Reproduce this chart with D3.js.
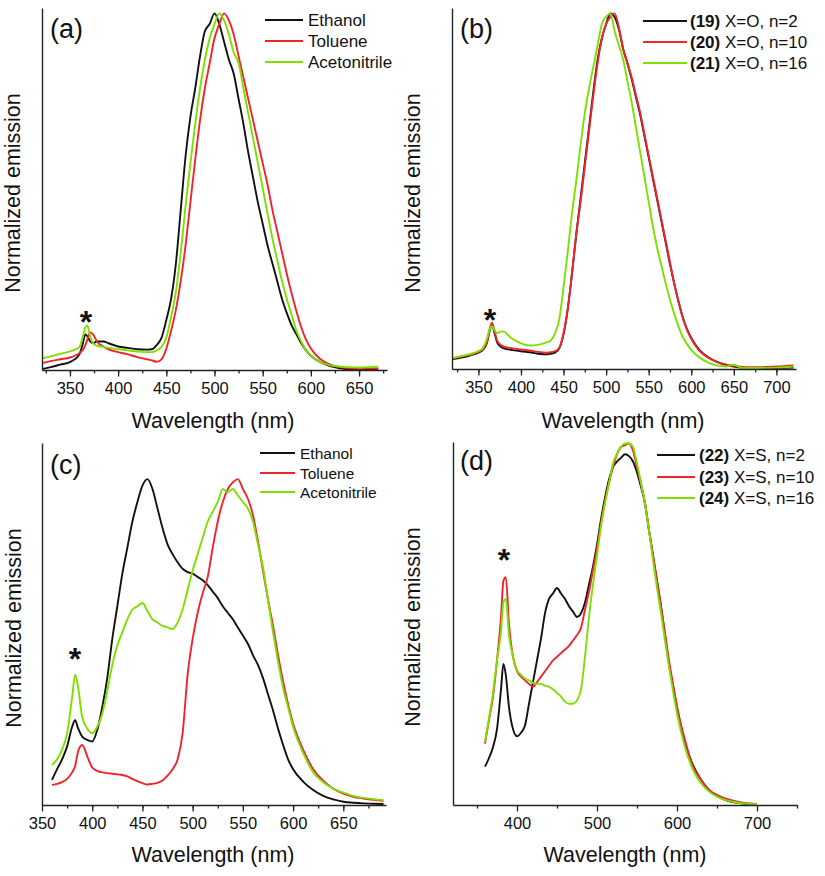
<!DOCTYPE html>
<html><head><meta charset="utf-8">
<script src="https://cdn.jsdelivr.net/npm/d3@7"></script>
<style>
html,body{margin:0;padding:0;background:#fff;}
svg text{font-family:"Liberation Sans",Arial,Helvetica,sans-serif;fill:#111;}
</style></head>
<body><svg id="chart" width="825" height="876"></svg>
<script>
// ---------- DATA ----------
// Panel (a)
const wlA = [322,330,340,350,355,360,363,366,368,371,374,378,385,390,400,410,420,430,435,440,445,450,455,460,465,470,475,480,485,490,495,500,505,510,515,520,525,530,535,540,545,550,555,560,565,570,575,580,585,590,595,600,610,620,630,640,650,660,670];
const aEthanol = [0.003,0.008,0.015,0.022,0.03,0.045,0.07,0.10,0.095,0.08,0.075,0.08,0.08,0.075,0.066,0.062,0.058,0.057,0.058,0.07,0.09,0.14,0.20,0.30,0.45,0.60,0.71,0.79,0.88,0.95,0.97,1.0,0.97,0.92,0.87,0.83,0.76,0.69,0.61,0.54,0.47,0.41,0.35,0.30,0.25,0.20,0.16,0.125,0.10,0.075,0.055,0.04,0.022,0.011,0.005,0.002,0.001,0.001,0.001];
const aToluene = [0.02,0.025,0.03,0.035,0.04,0.048,0.055,0.07,0.085,0.105,0.10,0.08,0.065,0.058,0.05,0.044,0.036,0.03,0.027,0.023,0.03,0.06,0.11,0.17,0.25,0.35,0.47,0.59,0.70,0.79,0.86,0.93,0.97,1.0,0.98,0.94,0.88,0.82,0.76,0.70,0.64,0.58,0.52,0.45,0.39,0.33,0.27,0.215,0.165,0.12,0.085,0.06,0.03,0.015,0.008,0.005,0.004,0.004,0.004];
const aAcetonitrile = [0.033,0.038,0.045,0.052,0.057,0.065,0.09,0.12,0.125,0.095,0.075,0.068,0.065,0.062,0.058,0.055,0.052,0.05,0.05,0.055,0.065,0.09,0.15,0.22,0.33,0.46,0.58,0.69,0.79,0.87,0.93,0.97,1.0,0.98,0.94,0.89,0.86,0.79,0.72,0.65,0.58,0.51,0.44,0.37,0.31,0.25,0.20,0.155,0.11,0.08,0.055,0.04,0.022,0.013,0.01,0.008,0.007,0.008,0.009];
// Panel (b)
const wlB = [320,330,340,350,355,360,363,366,369,372,376,380,385,390,400,410,420,430,435,440,445,450,455,460,465,470,475,480,485,490,495,500,505,510,515,520,525,530,535,540,545,550,555,560,565,570,575,580,585,590,595,600,610,620,630,640,650,660,670,680,700,720];
const b19 = [0.028,0.032,0.038,0.046,0.053,0.073,0.105,0.125,0.10,0.075,0.063,0.058,0.055,0.053,0.05,0.047,0.043,0.041,0.043,0.046,0.058,0.098,0.17,0.27,0.38,0.48,0.58,0.68,0.78,0.87,0.93,0.97,1.0,0.99,0.955,0.90,0.86,0.815,0.765,0.715,0.655,0.595,0.535,0.475,0.415,0.355,0.295,0.24,0.19,0.145,0.112,0.087,0.052,0.033,0.02,0.012,0.007,0.004,0.003,0.003,0.003,0.004];
const b20 = [0.03,0.035,0.04,0.048,0.055,0.075,0.11,0.13,0.105,0.08,0.068,0.063,0.06,0.058,0.055,0.052,0.048,0.046,0.047,0.05,0.06,0.10,0.17,0.27,0.38,0.47,0.57,0.67,0.77,0.86,0.93,0.97,0.99,1.0,0.96,0.90,0.86,0.82,0.77,0.72,0.66,0.60,0.54,0.48,0.42,0.36,0.30,0.24,0.19,0.145,0.11,0.085,0.05,0.032,0.02,0.013,0.009,0.006,0.005,0.005,0.007,0.01];
const b21 = [0.031,0.036,0.042,0.05,0.058,0.085,0.11,0.12,0.11,0.10,0.105,0.105,0.095,0.085,0.072,0.066,0.068,0.075,0.08,0.10,0.14,0.23,0.33,0.44,0.53,0.63,0.72,0.79,0.85,0.91,0.97,0.99,1.0,0.95,0.91,0.87,0.81,0.75,0.68,0.61,0.54,0.47,0.40,0.34,0.29,0.24,0.195,0.155,0.12,0.09,0.07,0.054,0.032,0.018,0.01,0.007,0.012,0.003,0.003,0.003,0.004,0.007];
// Panel (c)
const wlC = [360,365,370,375,380,383,386,390,395,400,405,410,415,420,425,430,435,440,445,450,455,460,465,470,475,480,485,490,495,500,505,510,515,520,525,530,535,540,545,550,555,560,565,570,575,580,585,590,595,600,610,620,630,640,650,660,670,680,690];
const cEthanol = [0.077,0.11,0.14,0.18,0.24,0.26,0.235,0.21,0.20,0.195,0.23,0.30,0.39,0.51,0.61,0.71,0.79,0.87,0.93,0.98,1.0,0.97,0.91,0.85,0.80,0.77,0.745,0.725,0.715,0.71,0.70,0.69,0.675,0.655,0.635,0.61,0.59,0.57,0.545,0.52,0.495,0.46,0.43,0.39,0.34,0.29,0.235,0.185,0.14,0.11,0.072,0.046,0.028,0.017,0.01,0.007,0.005,0.004,0.003];
const cToluene = [0.061,0.065,0.07,0.08,0.10,0.12,0.165,0.184,0.15,0.115,0.105,0.10,0.098,0.096,0.094,0.092,0.088,0.08,0.073,0.067,0.063,0.065,0.068,0.075,0.09,0.11,0.14,0.22,0.40,0.51,0.59,0.65,0.70,0.79,0.87,0.93,0.97,0.99,1.0,0.97,0.94,0.89,0.81,0.72,0.63,0.55,0.46,0.38,0.31,0.25,0.17,0.11,0.075,0.05,0.035,0.025,0.02,0.016,0.013];
const cAcetonitrile = [0.123,0.14,0.17,0.22,0.33,0.40,0.36,0.27,0.235,0.22,0.24,0.28,0.35,0.43,0.49,0.53,0.57,0.60,0.61,0.62,0.595,0.57,0.56,0.55,0.545,0.54,0.56,0.60,0.66,0.72,0.77,0.82,0.87,0.90,0.93,0.97,0.96,0.97,0.95,0.93,0.91,0.87,0.80,0.73,0.63,0.53,0.44,0.36,0.30,0.24,0.16,0.10,0.07,0.05,0.038,0.028,0.022,0.018,0.015];
// Panel (d)
const wlD = [360,365,370,375,380,383,386,390,395,400,405,410,415,420,425,430,435,440,445,450,455,460,465,470,475,480,485,490,495,500,505,510,515,520,525,530,535,540,545,550,555,560,565,570,575,580,585,590,595,600,610,620,630,640,650,660,670,680,690,700];
const d22 = [0.106,0.13,0.16,0.21,0.32,0.39,0.36,0.27,0.21,0.19,0.20,0.22,0.28,0.34,0.40,0.46,0.53,0.57,0.585,0.60,0.585,0.57,0.55,0.535,0.52,0.53,0.56,0.61,0.66,0.72,0.79,0.85,0.90,0.935,0.95,0.96,0.97,0.965,0.95,0.92,0.88,0.834,0.76,0.69,0.62,0.55,0.47,0.39,0.33,0.27,0.17,0.11,0.07,0.042,0.025,0.014,0.008,0.005,0.003,0.002];
const d23 = [0.17,0.235,0.30,0.40,0.52,0.62,0.63,0.50,0.41,0.37,0.355,0.345,0.335,0.327,0.34,0.355,0.37,0.385,0.40,0.41,0.42,0.43,0.44,0.455,0.47,0.49,0.54,0.59,0.65,0.71,0.78,0.84,0.89,0.935,0.97,0.99,0.995,1.0,0.98,0.935,0.89,0.834,0.76,0.69,0.62,0.548,0.475,0.40,0.335,0.272,0.18,0.106,0.07,0.041,0.028,0.018,0.012,0.007,0.004,0.002];
const d24 = [0.175,0.24,0.31,0.40,0.48,0.56,0.57,0.47,0.41,0.373,0.36,0.35,0.345,0.338,0.335,0.335,0.33,0.327,0.32,0.31,0.30,0.286,0.28,0.28,0.29,0.32,0.41,0.52,0.61,0.69,0.77,0.834,0.89,0.945,0.97,0.99,1.0,1.0,0.99,0.945,0.89,0.834,0.76,0.677,0.60,0.53,0.455,0.382,0.315,0.253,0.16,0.097,0.06,0.037,0.023,0.014,0.009,0.005,0.003,0.002];

const solventNames = ["Ethanol","Toluene","Acetonitrile"];
const legendB = [["(19)"," X=O, n=2"],["(20)"," X=O, n=10"],["(21)"," X=O, n=16"]];
const legendD = [["(22)"," X=S, n=2"],["(23)"," X=S, n=10"],["(24)"," X=S, n=16"]];
const panelLabels = ["(a)","(b)","(c)","(d)"];
const ticksA = [350,400,450,500,550,600,650];
const ticksB = [350,400,450,500,550,600,650,700];
const ticksC = [350,400,450,500,550,600,650];
const ticksD = [400,500,600,700];
const minorA = d3.range(325,680,25);
const minorB = d3.range(325,723,25);
const minorC = d3.range(375,692,25);
const minorD = [350,450,550,650,750];

const colors = ["#111111","#f0242c","#7de000"];

// ---------- LAYOUT ----------
const svg = d3.select("#chart");
const panels = [
  {wl:wlA, ys:[aEthanol,aToluene,aAcetonitrile], xd:[321,679], xr:[42,387], yd:[0,1.015], yr:[370,8],
   major:ticksA, minor:minorA, label:panelLabels[0], lab:[50,38], star:[86,315],
   leg:{x1:265,x2:303,tx:308,ys:[20,41,62],fs:17,items:solventNames.map(n=>["",n])},
   xt:[213,428], yt:[20,193]},
  {wl:wlB, ys:[b19,b20,b21], xd:[319,723], xr:[452,796], yd:[0,1.015], yr:[369,8],
   major:ticksB, minor:minorB, label:panelLabels[1], lab:[460,38], star:[490,313],
   leg:{x1:643,x2:687,tx:690,ys:[21,42,63],fs:17,items:legendB},
   xt:[623,428], yt:[420,193]},
  {wl:wlC, ys:[cEthanol,cToluene,cAcetonitrile], xd:[350,692.5], xr:[42,386], yd:[0,1.111], yr:[805,443],
   major:ticksC, minor:minorC, label:panelLabels[2], lab:[50,474], star:[75,652],
   leg:{x1:260,x2:295,tx:300,ys:[453,473,492],fs:15.5,items:solventNames.map(n=>["",n])},
   xt:[213,862], yt:[21,628]},
  {wl:wlD, ys:[d22,d23,d24], xd:[320,750], xr:[453,797], yd:[0,1.004], yr:[805,442],
   major:ticksD, minor:minorD, label:panelLabels[3], lab:[460,470], star:[504,553],
   leg:{x1:657,x2:695,tx:699,ys:[455,477,498],fs:17,items:legendD},
   xt:[625,862], yt:[420,627]}
];

panels.forEach(p => {
  const x = d3.scaleLinear().domain(p.xd).range(p.xr);
  const y = d3.scaleLinear().domain(p.yd).range(p.yr);
  const g = svg.append("g");

  // curves
  const line = d3.line().x(d=>x(d[0])).y(d=>y(d[1])).curve(d3.curveMonotoneX);
  p.ys.forEach((vals,i) => {
    const pts = p.wl.map((w,k)=>[w, vals[k]]);
    g.append("path").datum(pts).attr("d", line)
      .attr("fill","none").attr("stroke",colors[i]).attr("stroke-width",1.9)
      .attr("stroke-linejoin","round");
  });

  // axes
  const base = p.yr[0];
  const minorAx = d3.axisBottom(x).tickValues(p.minor).tickSize(3.5).tickSizeOuter(0).tickFormat("");
  const majorAx = d3.axisBottom(x).tickValues(p.major).tickSize(6.5).tickSizeOuter(0).tickPadding(6);
  const gm = g.append("g").attr("transform",`translate(0,${base})`).call(minorAx);
  gm.select(".domain").remove();
  gm.selectAll("line").attr("stroke","#222").attr("stroke-width",1.3);
  const gx = g.append("g").attr("transform",`translate(0,${base})`).call(majorAx);
  gx.select(".domain").attr("stroke","#222").attr("stroke-width",1.4);
  gx.selectAll("line").attr("stroke","#222").attr("stroke-width",1.3);
  gx.selectAll("text").attr("font-size",16.5).attr("fill","#111").attr("dy","0.71em");
  const yAx = d3.axisLeft(y).tickValues([]).tickSizeOuter(0);
  const gy = g.append("g").attr("transform",`translate(${p.xr[0]},0)`).call(yAx);
  gy.select(".domain").attr("stroke","#222").attr("stroke-width",1.4);

  // axis titles
  g.append("text").attr("x",p.xt[0]).attr("y",p.xt[1]).attr("text-anchor","middle")
    .attr("font-size",21.5).text("Wavelength (nm)");
  g.append("text").attr("transform",`translate(${p.yt[0]},${p.yt[1]}) rotate(-90)`)
    .attr("text-anchor","middle").attr("font-size",21.5).text("Normalized emission");

  // panel label
  g.append("text").attr("x",p.lab[0]).attr("y",p.lab[1]).attr("font-size",27).text(p.label);
  // asterisk
  g.append("text").attr("x",p.star[0]).attr("y",p.star[1]+18).attr("text-anchor","middle")
    .attr("font-size",32).attr("font-weight","bold").text("*");

  // legend
  p.leg.items.forEach((it,i) => {
    const yy = p.leg.ys[i];
    g.append("line").attr("x1",p.leg.x1).attr("x2",p.leg.x2).attr("y1",yy).attr("y2",yy)
      .attr("stroke",colors[i]).attr("stroke-width",2);
    const t = g.append("text").attr("x",p.leg.tx).attr("y",yy).attr("dy","0.36em")
      .attr("font-size",p.leg.fs);
    if (it[0]) t.append("tspan").attr("font-weight","bold").text(it[0]);
    t.append("tspan").text(it[1]);
  });
});
</script>
</body></html>
